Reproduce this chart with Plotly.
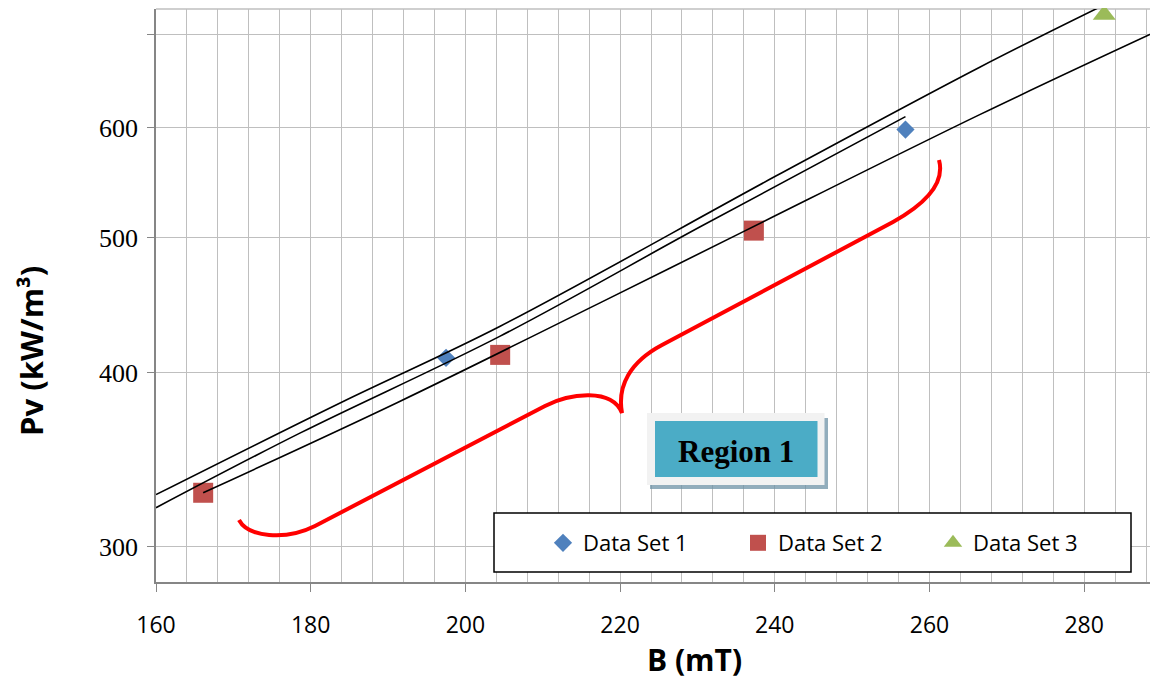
import numpy as np
import plotly.graph_objects as go

# ---------------- data ----------------
ds1_x = [197.5, 256.9]
ds1_y = [410, 598]
ds2_x = [166.1, 204.5, 237.3]
ds2_y = [328, 412, 506]
ds3_x = [282.6]
ds3_y = [723]

fitA_x = [160.0, 184.0, 204.5, 240.2, 266.5, 282.6]
fitA_y = [327, 381, 432, 554, 663, 735]
fitB_x = [160.0, 178.6, 204.5, 230.3, 256.9]
fitB_y = [320, 362, 425, 509, 611]
fitC_x = [166.1, 191.3, 217.4, 236.2, 266.5, 289.5]
fitC_y = [328, 381, 449, 506, 613, 704]

x_range = [160, 289.55]
y_range = [283, 730]
y_ticks = [300, 400, 500, 600, 700]
y_labels = ["300", "400", "500", "600", ""]

# ---------------- layout helpers ----------------
# The page body adds an 8px offset, so the figure is 8px smaller and
# every reference pixel position is expressed relative to the plot area.
OFF = 8
W, H = 1158 - OFF, 679 - OFF
L, R, T, B = 156, 1158, 9, 582   # plot area in reference pixels


def px(x):
    return (x - L) / (R - L)


def py(y):
    return (B - y) / (B - T)


def path_from(segs):
    out = []
    for cmd, pts in segs:
        out.append(cmd + " " + " ".join(f"{px(a):.5f},{py(b):.5f}" for a, b in pts))
    return " ".join(out)


GRID = "#BFBFBF"
AXIS = "#868686"

fig = go.Figure()

fig.add_trace(go.Scatter(x=ds1_x, y=ds1_y, mode="markers", name="Data Set 1",
                         marker=dict(symbol="diamond", size=14, color="#4F81BD"),
                         cliponaxis=False))
fig.add_trace(go.Scatter(x=ds2_x, y=ds2_y, mode="markers", name="Data Set 2",
                         marker=dict(symbol="square", size=20, color="#C0504D"),
                         cliponaxis=False))
fig.add_trace(go.Scatter(x=ds3_x, y=ds3_y, mode="markers", name="Data Set 3",
                         marker=dict(symbol="triangle-up", size=20, color="#9BBB59"),
                         cliponaxis=False))

for fx, fy in [(fitA_x, fitA_y), (fitB_x, fitB_y), (fitC_x, fitC_y)]:
    fig.add_trace(go.Scatter(x=fx, y=fy, mode="lines", showlegend=False, hoverinfo="skip",
                             line=dict(color="black", width=1.6, shape="spline", smoothing=1.0),
                             cliponaxis=False))

shapes = [
    dict(type="line", xref="paper", yref="paper", x0=0, x1=1, y0=1, y1=1,
         line=dict(color=GRID, width=1.3), layer="below"),
    dict(type="rect", xref="paper", yref="paper", x0=px(494), x1=px(1131), y0=py(572), y1=py(513),
         fillcolor="white", line=dict(color="black", width=1.5), layer="above"),
    dict(type="rect", xref="paper", yref="paper", x0=px(650), x1=px(828), y0=py(489), y1=py(418),
         fillcolor="rgba(110,145,165,0.75)", line=dict(width=0), layer="above"),
    dict(type="rect", xref="paper", yref="paper", x0=px(647), x1=px(824.5), y0=py(485), y1=py(413),
         fillcolor="#F2F2F2", line=dict(width=0), layer="above"),
    dict(type="rect", xref="paper", yref="paper", x0=px(655), x1=px(817.5), y0=py(477), y1=py(421),
         fillcolor="#4BACC6", line=dict(width=0), layer="above"),
    dict(type="path", xref="paper", yref="paper",
         path=path_from([
             ("M", [(239, 520)]),
             ("C", [(248, 537), (285, 541), (315, 526)]),
             ("L", [(545, 406)]),
             ("C", [(570, 393), (612, 388), (622, 413)]),
             ("C", [(617, 386), (630, 362), (662, 345)]),
             ("L", [(893, 222)]),
             ("C", [(920, 207), (946, 186), (939, 160)]),
         ]),
         line=dict(color="#FF0000", width=4), layer="above"),
]

annotations = [
    dict(text="<b>Region 1</b>", xref="paper", yref="paper", x=px(736), y=py(451),
         xanchor="center", yanchor="middle", showarrow=False,
         font=dict(family="Liberation Serif", size=31, color="black")),
    dict(text="<b>B (mT)</b>", xref="paper", yref="paper", x=px(694), y=py(659),
         xanchor="center", yanchor="middle", showarrow=False,
         font=dict(family="Open Sans", size=30, color="black")),
    dict(text="<b>Pv (kW/m³)</b>", xref="paper", yref="paper", x=px(31), y=py(351),
         xanchor="center", yanchor="middle", showarrow=False, textangle=-90,
         font=dict(family="Open Sans", size=31, color="black")),
]

fig.update_layout(
    width=W, height=H, autosize=False,
    margin=dict(l=L - OFF, r=0, t=T - OFF, b=H - (B - OFF), pad=0),
    paper_bgcolor="white", plot_bgcolor="white",
    showlegend=True,
    legend=dict(orientation="h", x=px(543), xanchor="left", y=py(543), yanchor="middle",
                bgcolor="rgba(0,0,0,0)", borderwidth=0,
                font=dict(family="Open Sans", size=22, color="black"),
                entrywidth=150, entrywidthmode="pixels", itemsizing="trace"),
    shapes=shapes,
    annotations=annotations,
    xaxis=dict(range=x_range, tickmode="linear", tick0=0, dtick=20,
               ticks="outside", ticklen=8, tickcolor=AXIS, tickwidth=1.3,
               showline=True, linecolor=AXIS, linewidth=1.5,
               showgrid=True, gridcolor=GRID, gridwidth=1.3, zeroline=False,
               minor=dict(tick0=0, dtick=4, showgrid=True, gridcolor=GRID, gridwidth=1.3, ticks=""),
               tickfont=dict(family="Open Sans", size=23, color="black"),
               ticklabelstandoff=14),
    yaxis=dict(type="log", range=[np.log10(y_range[0]), np.log10(y_range[1])],
               tickmode="array", tickvals=y_ticks, ticktext=y_labels,
               ticks="outside", ticklen=7, tickcolor=AXIS, tickwidth=1.3,
               showline=True, linecolor=AXIS, linewidth=1.5,
               showgrid=True, gridcolor=GRID, gridwidth=1.3, zeroline=False,
               tickfont=dict(family="Liberation Serif", size=26, color="black"),
               ticklabelstandoff=4),
)

fig.write_html("out.html")
